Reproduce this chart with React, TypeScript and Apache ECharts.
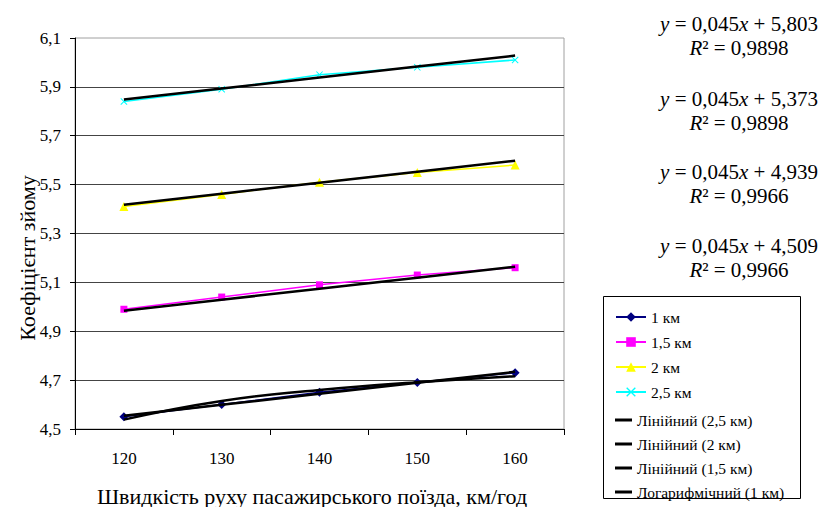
import React, { useEffect, useRef } from 'react';
import * as echarts from 'echarts';

const categories = ['120', '130', '140', '150', '160'];
const km1 = [4.55, 4.6, 4.65, 4.69, 4.73];
const km15 = [4.99, 5.04, 5.09, 5.13, 5.16];
const km2 = [5.41, 5.46, 5.51, 5.55, 5.58];
const km25 = [5.84, 5.89, 5.95, 5.98, 6.01];
const yTicks = [4.5, 4.7, 4.9, 5.1, 5.3, 5.5, 5.7, 5.9, 6.1];
const trendSlope = 0.045;
// order: 2,5 км, 2 км, 1,5 км, 1 км
const trendIntercepts = [5.803, 5.373, 4.939, 4.509];
const trendR2 = ['0,9898', '0,9898', '0,9966', '0,9966'];
const seriesNames = ['1 км', '1,5 км', '2 км', '2,5 км'];
const trendNames = ['Лінійний (2,5 км)', 'Лінійний (2 км)', 'Лінійний (1,5 км)', 'Логарифмічний (1 км)'];
const xTitle = 'Швидкість руху пасажирського поїзда, км/год';
const yTitle = 'Коефіцієнт зйому';

const FONT = 'Liberation Serif';

const comma = (v: number, d: number) => v.toFixed(d).replace('.', ',');

function linTrend(intercept: number) {
  return categories.map((_, i) => +(trendSlope * (i + 1) + intercept).toFixed(4));
}

function logTrend(vals: number[]) {
  const lx = vals.map((_, i) => Math.log(i + 1));
  const n = vals.length;
  const mx = lx.reduce((a, b) => a + b, 0) / n;
  const my = vals.reduce((a, b) => a + b, 0) / n;
  let sxy = 0;
  let sxx = 0;
  for (let i = 0; i < n; i++) {
    sxy += (lx[i] - mx) * (vals[i] - my);
    sxx += (lx[i] - mx) * (lx[i] - mx);
  }
  const a = sxy / sxx;
  const b = my - a * mx;
  return lx.map((l) => +(a * l + b).toFixed(4));
}

export default function App() {
  const ref = useRef<HTMLDivElement>(null);
  useEffect(() => {
    document.body.style.margin = '0';
    if (!ref.current) return;
    const chart = echarts.init(ref.current, undefined, { renderer: 'svg' });

    const dataSeries = [
      { name: seriesNames[0], data: km1, color: '#000080', symbol: 'diamond', size: 9 },
      { name: seriesNames[1], data: km15, color: '#FF00FF', symbol: 'rect', size: 7 },
      { name: seriesNames[2], data: km2, color: '#FFFF00', symbol: 'triangle', size: 9 },
      {
        name: seriesNames[3],
        data: km25,
        color: '#00FFFF',
        symbol: 'path://M1,0L5,4L9,0L10,1L6,5L10,9L9,10L5,6L1,10L0,9L4,5L0,1Z',
        size: 7,
      },
    ].map((s) => ({
      type: 'line',
      name: s.name,
      data: s.data,
      symbol: s.symbol,
      symbolSize: s.size,
      showSymbol: true,
      itemStyle: { color: s.color },
      lineStyle: { color: s.color, width: 1.5 },
      z: 2,
    }));

    const trendLine = (name: string, data: number[], smooth = false) => ({
      type: 'line',
      name,
      data,
      smooth,
      showSymbol: false,
      symbol: 'none',
      itemStyle: { color: '#000' },
      lineStyle: { color: '#000', width: 2.5 },
      z: 3,
      silent: true,
    });

    const trends = [
      trendLine(trendNames[0], linTrend(trendIntercepts[0])),
      trendLine(trendNames[1], linTrend(trendIntercepts[1])),
      trendLine(trendNames[2], linTrend(trendIntercepts[2])),
      trendLine('Лінійний (1 км)', linTrend(trendIntercepts[3])),
      trendLine(trendNames[3], logTrend(km1), true),
    ];

    const eqCenters = [35.5, 111, 184, 257.5];
    const eqGraphics = trendIntercepts.map((b, i) => ({
      type: 'text',
      x: 739,
      y: eqCenters[i],
      style: {
        text: `{i|y} = ${comma(trendSlope, 3)}{i|x} + ${comma(b, 3)}\n{i|R}² = ${trendR2[i]}`,
        fontFamily: FONT,
        fontSize: 21,
        lineHeight: 24,
        fill: '#000',
        align: 'center',
        verticalAlign: 'middle',
        rich: {
          i: { fontStyle: 'italic', fontFamily: FONT, fontSize: 21, lineHeight: 24 },
        },
      },
    }));

    const option: any = {
      animation: false,
      backgroundColor: '#fff',
      textStyle: { fontFamily: FONT },
      grid: {
        left: 75,
        right: 258,
        top: 38,
        bottom: 78,
        show: true,
        borderColor: '#a0a0a0',
        borderWidth: 1,
        containLabel: false,
      },
      xAxis: {
        type: 'category',
        data: categories,
        boundaryGap: true,
        axisLine: { lineStyle: { color: '#000', width: 1 } },
        axisTick: { show: true, alignWithLabel: false, length: 6, lineStyle: { color: '#000' } },
        axisLabel: { fontFamily: FONT, fontSize: 17, color: '#000', margin: 21 },
        splitLine: { show: false },
      },
      yAxis: {
        type: 'value',
        min: 4.5,
        max: 6.1,
        axisLine: { show: true, lineStyle: { color: '#000', width: 1 } },
        axisTick: { show: true, length: 5, customValues: yTicks, lineStyle: { color: '#000' } },
        axisLabel: {
          fontFamily: FONT,
          fontSize: 17,
          color: '#000',
          margin: 14,
          customValues: yTicks,
          formatter: (v: number) => comma(v, 1),
        },
        splitLine: { show: true, showMaxLine: false, lineStyle: { color: '#444', width: 1 } },
      },
      legend: [
        {
          orient: 'vertical',
          left: 610,
          top: 304,
          itemWidth: 30,
          itemHeight: 12,
          itemGap: 9,
          selectedMode: false,
          data: seriesNames,
          textStyle: { fontFamily: FONT, fontSize: 15.5, color: '#000', lineHeight: 16 },
        },
        {
          orient: 'vertical',
          left: 610,
          top: 407,
          itemWidth: 17,
          itemHeight: 3,
          itemGap: 8,
          icon: 'rect',
          selectedMode: false,
          data: trendNames,
          textStyle: { fontFamily: FONT, fontSize: 15.5, color: '#000', lineHeight: 16 },
        },
      ],
      graphic: [
        {
          type: 'rect',
          shape: { x: 603.5, y: 296.5, width: 197, height: 202 },
          style: { fill: 'none', stroke: '#000', lineWidth: 1 },
          z: -1,
        },
        {
          type: 'text',
          x: 312,
          y: 496,
          style: {
            text: xTitle,
            fontFamily: FONT,
            fontSize: 22,
            fill: '#000',
            align: 'center',
            verticalAlign: 'middle',
          },
        },
        {
          type: 'text',
          x: 27,
          y: 258,
          rotation: Math.PI / 2,
          style: {
            text: yTitle,
            fontFamily: FONT,
            fontSize: 22,
            fill: '#000',
            align: 'center',
            verticalAlign: 'middle',
          },
        },
        ...eqGraphics,
      ],
      series: [...dataSeries, ...trends],
    };
    chart.setOption(option);
    return () => chart.dispose();
  }, []);
  return <div ref={ref} style={{ width: 822, height: 507 }} />;
}
